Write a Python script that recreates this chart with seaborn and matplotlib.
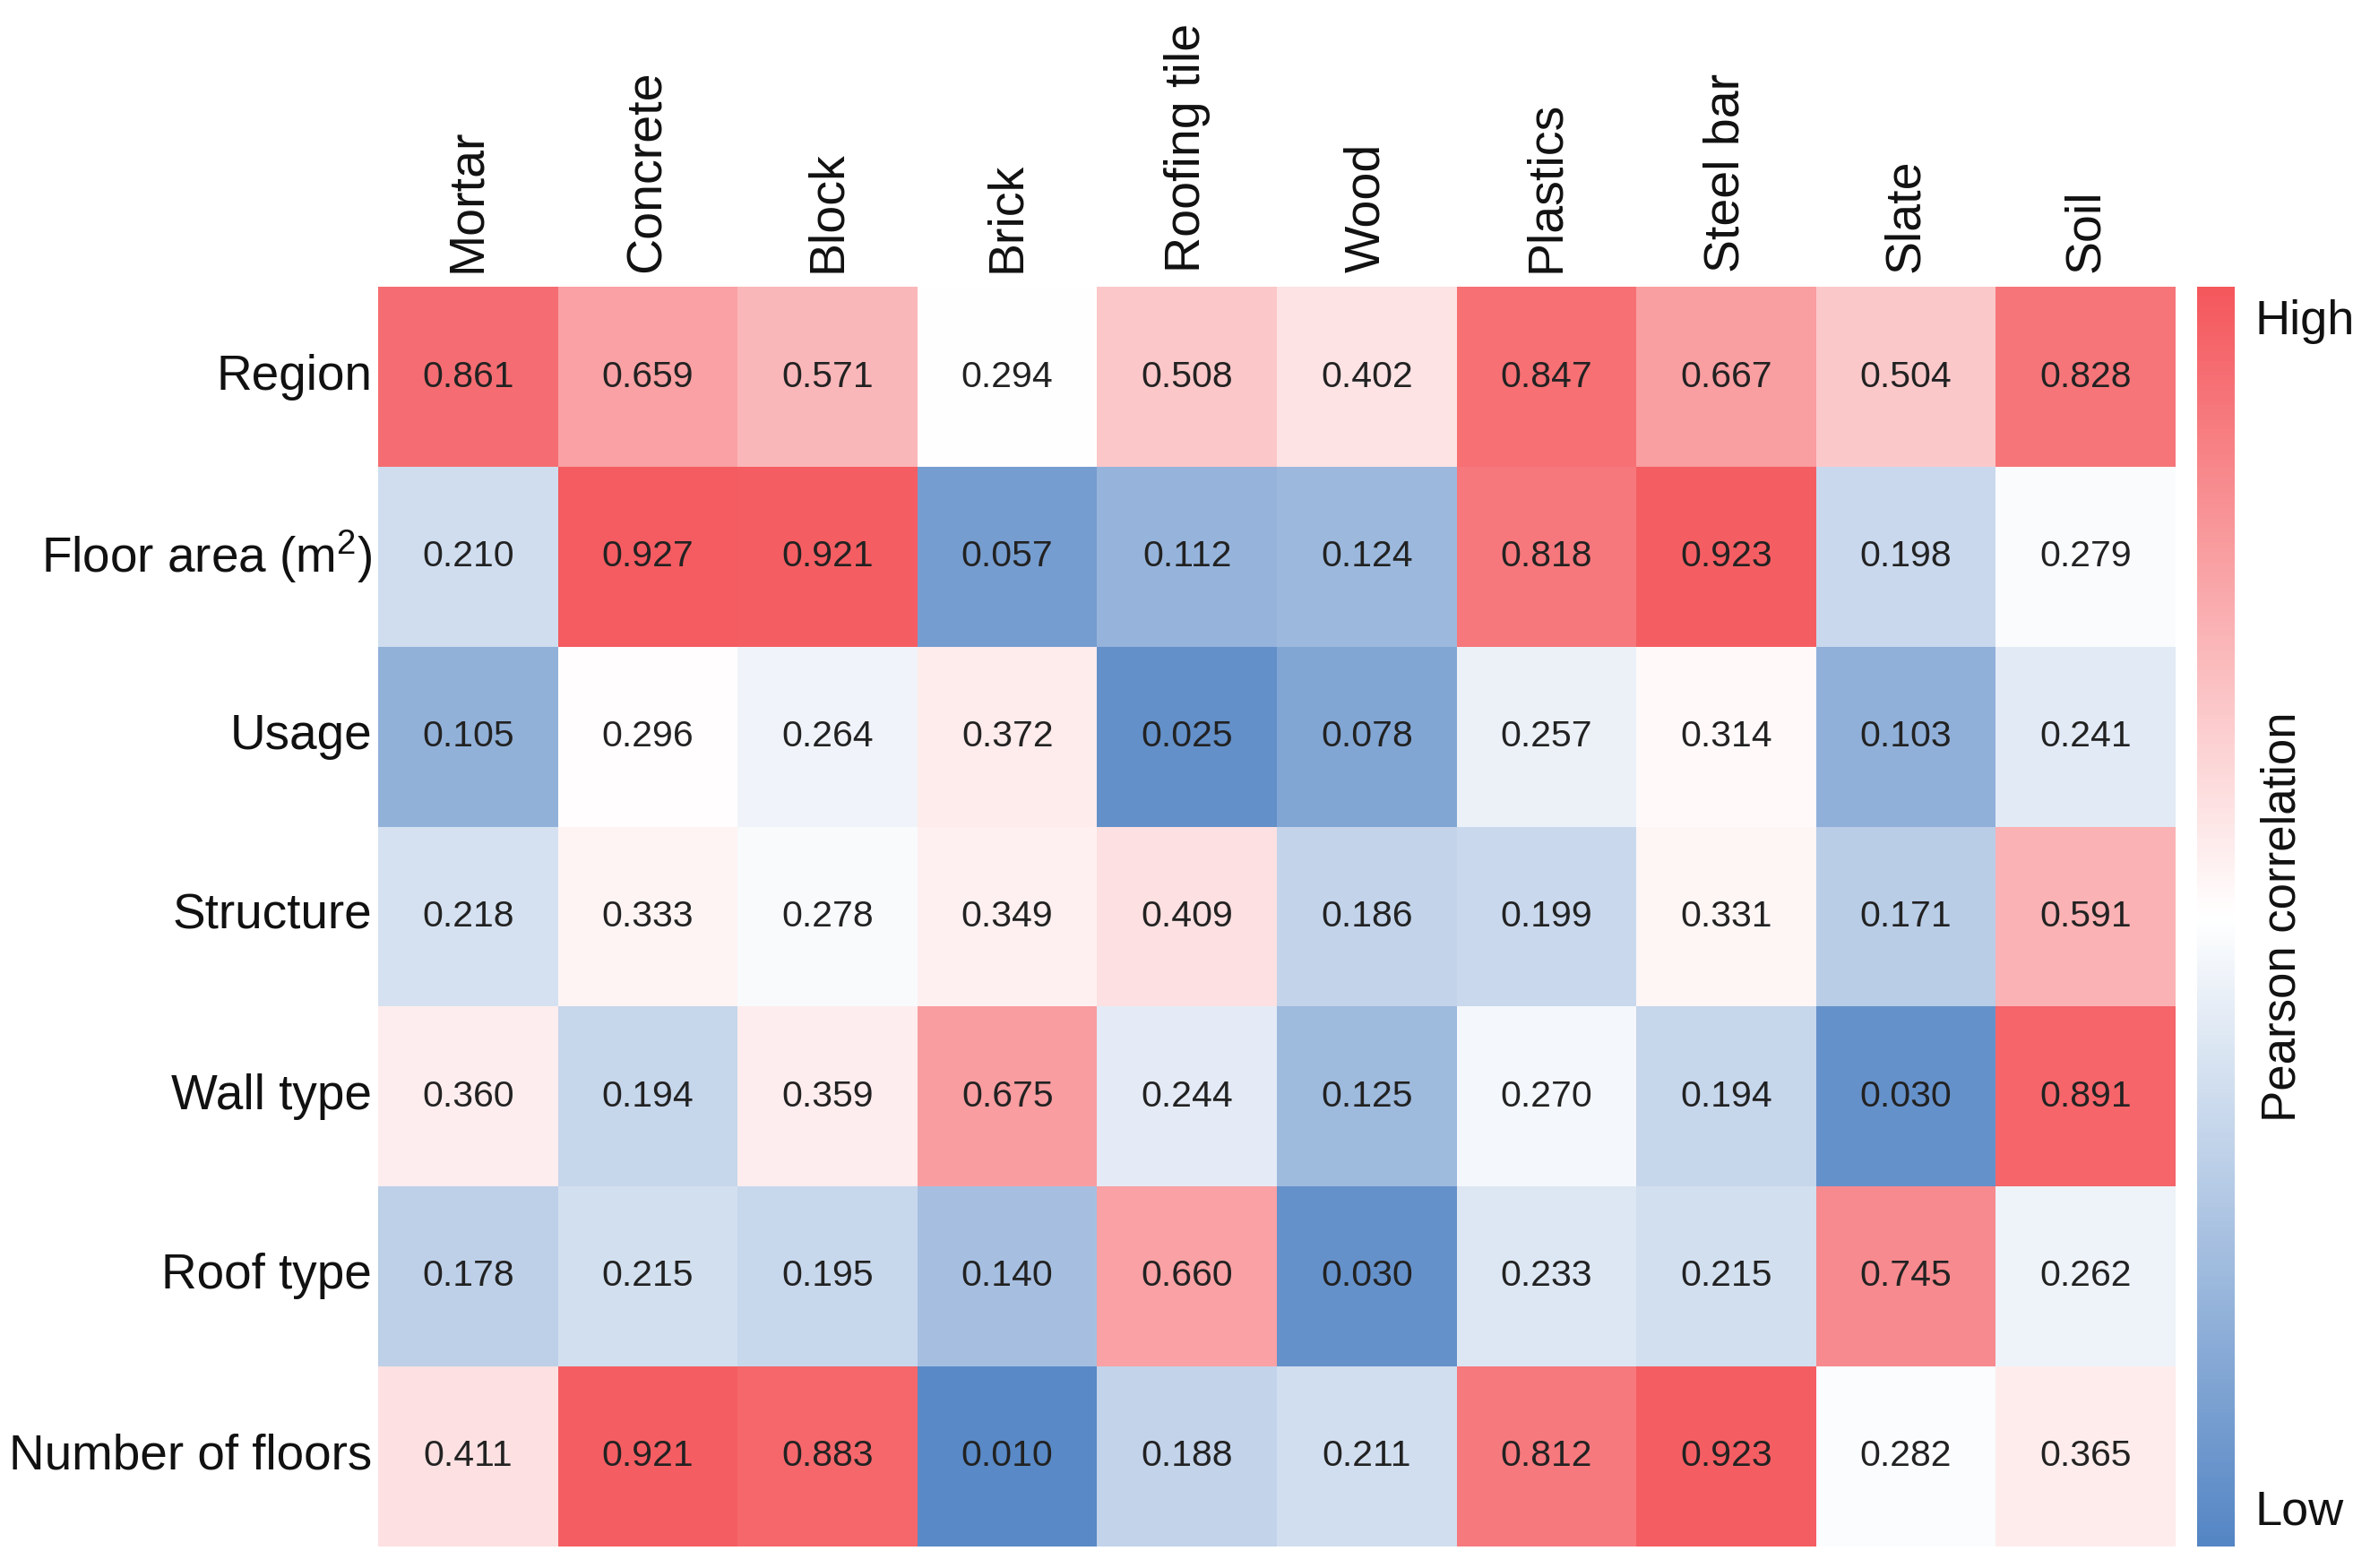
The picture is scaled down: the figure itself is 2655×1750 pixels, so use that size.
import numpy as np
import pandas as pd
import matplotlib
matplotlib.use("Agg")
import matplotlib.pyplot as plt
import seaborn as sns
from matplotlib.colors import LinearSegmentedColormap, TwoSlopeNorm

materials = ["Mortar", "Concrete", "Block", "Brick", "Roofing tile", "Wood",
             "Plastics", "Steel bar", "Slate", "Soil"]
factors = ["Region", "Floor area (m$^2$)", "Usage", "Structure", "Wall type",
           "Roof type", "Number of floors"]

region = [0.861, 0.659, 0.571, 0.294, 0.508, 0.402, 0.847, 0.667, 0.504, 0.828]
floor_area = [0.210, 0.927, 0.921, 0.057, 0.112, 0.124, 0.818, 0.923, 0.198, 0.279]
usage = [0.105, 0.296, 0.264, 0.372, 0.025, 0.078, 0.257, 0.314, 0.103, 0.241]
structure = [0.218, 0.333, 0.278, 0.349, 0.409, 0.186, 0.199, 0.331, 0.171, 0.591]
wall_type = [0.360, 0.194, 0.359, 0.675, 0.244, 0.125, 0.270, 0.194, 0.030, 0.891]
roof_type = [0.178, 0.215, 0.195, 0.140, 0.660, 0.030, 0.233, 0.215, 0.745, 0.262]
num_floors = [0.411, 0.921, 0.883, 0.010, 0.188, 0.211, 0.812, 0.923, 0.282, 0.365]

df = pd.DataFrame([region, floor_area, usage, structure, wall_type, roof_type, num_floors],
                  index=factors, columns=materials)

sns.set_theme(style="white")
plt.rcParams["font.family"] = ["Liberation Sans", "DejaVu Sans"]
plt.rcParams["mathtext.fontset"] = "custom"
plt.rcParams["mathtext.rm"] = "Liberation Sans"
plt.rcParams["mathtext.default"] = "regular"

cmap = LinearSegmentedColormap.from_list("bwr_soft", ["#5485C4", "#FFFFFF", "#F4575C"])
norm = TwoSlopeNorm(vmin=0.0, vcenter=0.29, vmax=0.95)

fig = plt.figure(figsize=(26.55, 17.5), dpi=100)
ax = fig.add_axes([0.159, 0.014, 0.7555, 0.803])
cax = fig.add_axes([0.9235, 0.014, 0.0158, 0.803])

sns.heatmap(df, ax=ax, cbar_ax=cax, cmap=cmap, norm=norm, annot=True, fmt=".3f",
            annot_kws={"fontsize": 29.5, "color": "#222222"}, linewidths=0)

ax.xaxis.tick_top()
ax.set_xticklabels(materials, rotation=90, fontsize=40, color="#111111")
ax.set_yticklabels(factors, rotation=0, fontsize=39.5, color="#111111")
ax.tick_params(axis="x", length=0, pad=12)
ax.tick_params(axis="y", length=0, pad=5)
ax.set_xlabel("")
ax.set_ylabel("")

cax.set_yticks([])
cax.tick_params(length=0)
for s in cax.spines.values():
    s.set_visible(False)
cb = ax.collections[0].colorbar
cb.outline.set_visible(False)

fig.text(0.948, 0.795, "High", fontsize=39, ha="left", va="center", color="#111111")
fig.text(0.948, 0.036, "Low", fontsize=39, ha="left", va="center", color="#111111")
fig.text(0.9595, 0.415, "Pearson correlation", fontsize=38, rotation=90,
         ha="center", va="center", color="#111111")

fig.savefig("out.png", dpi=100, facecolor="white")
